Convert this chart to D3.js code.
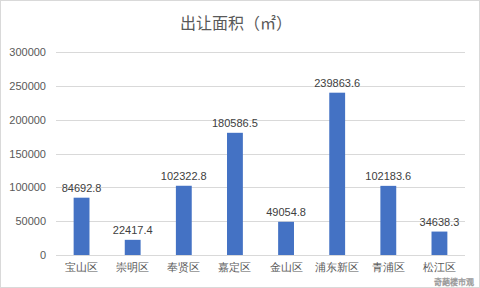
<!DOCTYPE html>
<html>
<head>
<meta charset="utf-8">
<script src="https://cdn.jsdelivr.net/npm/d3@7"></script>
<style>
  body { margin: 0; background: #fff; }
  svg { display: block; font-family: "Noto Sans CJK SC", sans-serif; }
</style>
</head>
<body>
<div id="chart"></div>
<script>
var categories = ["宝山区", "崇明区", "奉贤区", "嘉定区", "金山区", "浦东新区", "青浦区", "松江区"];
var values = [84692.8, 22417.4, 102322.8, 180586.5, 49054.8, 239863.6, 102183.6, 34638.3];
var yTicks = [0, 50000, 100000, 150000, 200000, 250000, 300000];
var title = "出让面积（㎡）";

var width = 480, height = 288;
var svg = d3.select("#chart").append("svg")
	.attr("width", width)
	.attr("height", height);

svg.append("rect")
	.attr("x", 0.5).attr("y", 0.5)
	.attr("width", width - 1).attr("height", height - 1)
	.attr("fill", "#fff")
	.attr("stroke", "#d9d9d9");

var x = d3.scaleBand()
	.domain(categories)
	.range([56, 465])
	.paddingInner(0.69)
	.paddingOuter(0.345);

var y = d3.scaleLinear()
	.domain([0, 300000])
	.range([255, 52]);

// gridlines
svg.append("g")
	.selectAll("line")
	.data(yTicks)
	.enter()
	.append("line")
	.attr("x1", 56).attr("x2", 465)
	.attr("y1", d => Math.round(y(d)) + 0.5)
	.attr("y2", d => Math.round(y(d)) + 0.5)
	.attr("stroke", "#d9d9d9");

var yAxis = svg.append("g")
	.attr("transform", "translate(46,0)")
	.call(d3.axisLeft(y).tickValues(yTicks).tickFormat(d3.format("d")).tickSize(0).tickPadding(0));
yAxis.select(".domain").remove();
yAxis.selectAll("text")
	.attr("fill", "#595959")
	.style("font-size", "11px")
	.style("font-family", "Liberation Sans, Arial, sans-serif");

var xAxis = svg.append("g")
	.attr("transform", "translate(0,255)")
	.call(d3.axisBottom(x).tickSize(0).tickPadding(8));
xAxis.select(".domain").remove();
xAxis.selectAll("text")
	.attr("fill", "#595959")
	.style("font-size", "11px");

svg.selectAll("rect.bar")
	.data(values)
	.enter()
	.append("rect")
	.attr("class", "bar")
	.attr("x", (d, i) => x(categories[i]))
	.attr("y", d => y(d))
	.attr("width", x.bandwidth())
	.attr("height", d => y(0) - y(d))
	.attr("fill", "#4472c4");

svg.selectAll("text.val")
	.data(values)
	.enter()
	.append("text")
	.attr("class", "val")
	.attr("x", (d, i) => x(categories[i]) + x.bandwidth() / 2)
	.attr("y", d => y(d) - 6)
	.attr("text-anchor", "middle")
	.attr("fill", "#404040")
	.style("font-size", "11px")
	.style("font-family", "Liberation Sans, Arial, sans-serif")
	.text(d => d3.format(".1f")(d));

svg.append("text")
	.attr("x", 236)
	.attr("y", 29)
	.attr("text-anchor", "middle")
	.attr("fill", "#595959")
	.style("font-size", "16px")
	.text(title);

// watermark, kept just below the axis labels
svg.append("text")
	.attr("x", 474)
	.attr("y", 285)
	.attr("text-anchor", "end")
	.attr("fill", "#fff")
	.attr("stroke", "#888")
	.attr("stroke-width", 0.5)
	.attr("opacity", 0.85)
	.style("font-size", "8px")
	.text("奇葩楼市观");
</script>
</body>
</html>
